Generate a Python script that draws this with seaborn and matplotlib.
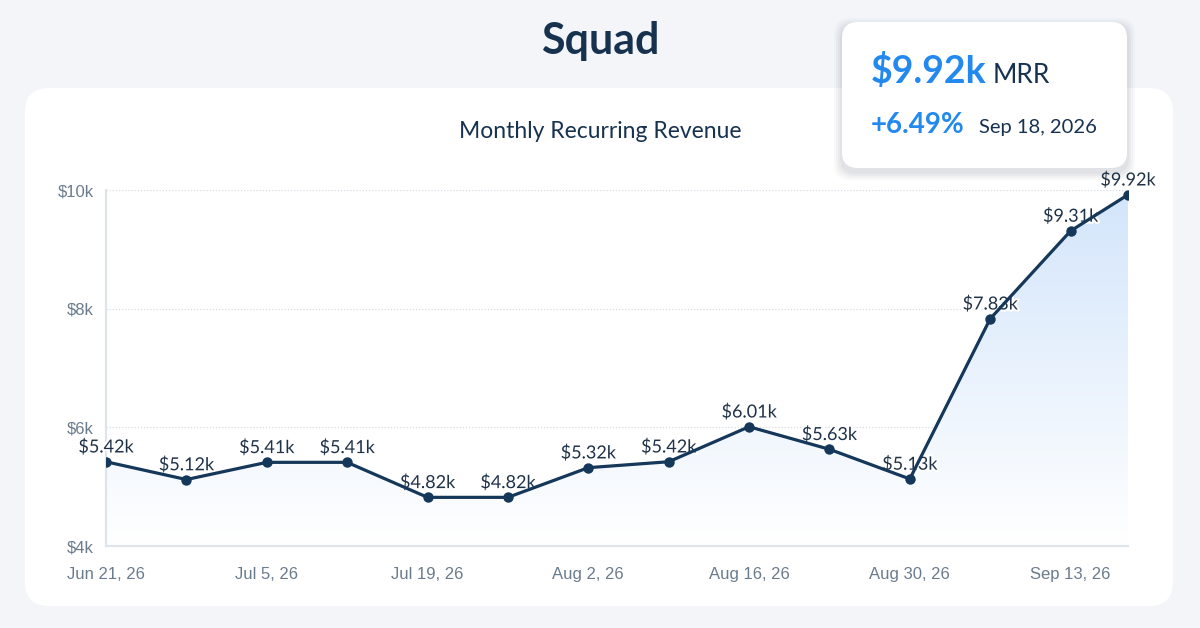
import numpy as np
import pandas as pd
import matplotlib
matplotlib.use("Agg")
import matplotlib.pyplot as plt
import matplotlib.dates as mdates
from matplotlib.patches import FancyBboxPatch, Polygon
from matplotlib.colors import LinearSegmentedColormap
import matplotlib.patheffects as pe
import seaborn as sns

# ---------------- data ----------------
dates = ["2026-06-21", "2026-06-28", "2026-07-05", "2026-07-12", "2026-07-19",
         "2026-07-26", "2026-08-02", "2026-08-09", "2026-08-16", "2026-08-23",
         "2026-08-30", "2026-09-06", "2026-09-13", "2026-09-18"]
mrr = [5420, 5120, 5410, 5410, 4820, 4820, 5320, 5420, 6010, 5630, 5130, 7830, 9310, 9920]
point_labels = ["$5.42k", "$5.12k", "$5.41k", "$5.41k", "$4.82k", "$4.82k", "$5.32k",
                "$5.42k", "$6.01k", "$5.63k", "$5.13k", "$7.83k", "$9.31k", "$9.92k"]
x_tick_dates = ["2026-06-21", "2026-07-05", "2026-07-19", "2026-08-02",
                "2026-08-16", "2026-08-30", "2026-09-13"]
x_tick_labels = ["Jun 21, 26", "Jul 5, 26", "Jul 19, 26", "Aug 2, 26",
                 "Aug 16, 26", "Aug 30, 26", "Sep 13, 26"]
y_ticks = [4000, 6000, 8000, 10000]
y_tick_labels = ["$4k", "$6k", "$8k", "$10k"]
title = "Squad"
subtitle = "Monthly Recurring Revenue"
kpi_value = "$9.92k"
kpi_unit = "MRR"
kpi_change = "+6.49%"
kpi_date = "Sep 18, 2026"

df = pd.DataFrame({"date": pd.to_datetime(dates), "mrr": mrr})

# ---------------- style ----------------
sns.set_theme(style="white")
plt.rcParams["font.family"] = ["Noto Sans", "DejaVu Sans"]

BG = "#f3f5f9"
NAVY = "#17324f"
LINE = "#15375a"
BLUE = "#2389ef"
TICK = "#6a7b8c"
LATO = ["Lato", "DejaVu Sans"]

W, H = 1200, 628
fig = plt.figure(figsize=(W / 100, H / 100), dpi=100, facecolor=BG)

# background layer (pixel coordinates)
bg = fig.add_axes([0, 0, 1, 1], zorder=0)
bg.set_xlim(0, W); bg.set_ylim(H, 0); bg.axis("off"); bg.patch.set_alpha(0)
bg.add_patch(FancyBboxPatch((25 + 24, 88 + 24), 1148 - 48, 518 - 48,
                            boxstyle="round,pad=24", fc="white", ec="none"))
bg.text(600, 41, title, ha="center", va="center", fontsize=31, fontweight="bold",
        color=NAVY, family=LATO)
bg.text(600, 132, subtitle, ha="center", va="center", fontsize=16.5,
        color=NAVY, family=LATO)

# main chart axes
left, right, top, bottom = 106, 1128, 190, 546
ax = fig.add_axes([left / W, 1 - bottom / H, (right - left) / W, (bottom - top) / H], zorder=2)
ax.patch.set_alpha(0)

x0 = mdates.date2num(df["date"].iloc[0])
x1 = mdates.date2num(df["date"].iloc[-1])
ax.set_xlim(x0, x1)
ax.set_ylim(4000, 10000)

# gradient fill under the line
cmap = LinearSegmentedColormap.from_list("g", ["#ffffff", "#d3e5fb"])
grad = np.linspace(0, 1, 256).reshape(-1, 1)
im = ax.imshow(grad, aspect="auto", cmap=cmap, origin="lower",
               extent=[x0, x1, 4000, 10000], zorder=1)
xs = mdates.date2num(df["date"])
poly = Polygon(np.column_stack([np.r_[xs, xs[-1], xs[0]], np.r_[df["mrr"], 4000, 4000]]),
               closed=True, transform=ax.transData, fc="none", ec="none")
ax.add_patch(poly)
im.set_clip_path(poly)

sns.lineplot(data=df, x="date", y="mrr", ax=ax, color=LINE, linewidth=2.3,
             marker="o", markersize=7.5, markeredgewidth=0, zorder=4)

for xv, yv, lab in zip(df["date"], df["mrr"], point_labels):
    t = ax.annotate(lab, (xv, yv), xytext=(0, 4.5), textcoords="offset points",
                    ha="center", va="bottom", fontsize=13, color="#1f3247",
                    family=LATO, zorder=3, annotation_clip=False)
    t.set_path_effects([pe.withStroke(linewidth=3, foreground="white")])

ax.set_yticks(y_ticks)
ax.set_yticklabels(y_tick_labels)
ax.set_xticks(mdates.date2num(pd.to_datetime(x_tick_dates)))
ax.set_xticklabels(x_tick_labels)
ax.tick_params(axis="both", length=0, labelsize=12, colors=TICK)
ax.tick_params(axis="x", pad=15)
ax.tick_params(axis="y", pad=9)
for lab in ax.get_xticklabels() + ax.get_yticklabels():
    lab.set_family(["Liberation Sans", "DejaVu Sans"])
ax.set_xlabel(""); ax.set_ylabel("")
ax.grid(axis="y", linestyle=(0, (1, 1.5)), color="#d5dbe2", linewidth=0.9)
ax.grid(axis="x", visible=False)
for s in ["top", "right"]:
    ax.spines[s].set_visible(False)
for s in ["left", "bottom"]:
    ax.spines[s].set_color("#dfe4ea")
    ax.spines[s].set_linewidth(1.6)

# KPI card overlay
ov = fig.add_axes([0, 0, 1, 1], zorder=5)
ov.set_xlim(0, W); ov.set_ylim(H, 0); ov.axis("off"); ov.patch.set_alpha(0)
cx, cy, cw, ch, r = 842, 22, 285, 146, 16
for i, a in enumerate([0.025, 0.03, 0.035, 0.04]):
    g = 8 - 2 * i
    ov.add_patch(FancyBboxPatch((cx + r - g, cy + r + 4 - g), cw - 2 * r + 2 * g, ch - 2 * r + 2 * g,
                                boxstyle=f"round,pad={r}", fc="#1b2a3a", ec="none", alpha=a))
ov.add_patch(FancyBboxPatch((cx + r, cy + r), cw - 2 * r, ch - 2 * r,
                            boxstyle=f"round,pad={r}", fc="white", ec="none"))
ov.text(871, 83, kpi_value, ha="left", va="baseline", fontsize=27, fontweight="bold",
        color=BLUE, family=LATO)
ov.text(993, 83, kpi_unit, ha="left", va="baseline", fontsize=19,
        color=NAVY, family=LATO)
ov.text(871, 133, kpi_change, ha="left", va="baseline", fontsize=20, fontweight="bold",
        color=BLUE, family=LATO)
ov.text(979, 133, kpi_date, ha="left", va="baseline", fontsize=14.5,
        color=NAVY, family=LATO)

fig.savefig("out.png", dpi=100, facecolor=BG)
